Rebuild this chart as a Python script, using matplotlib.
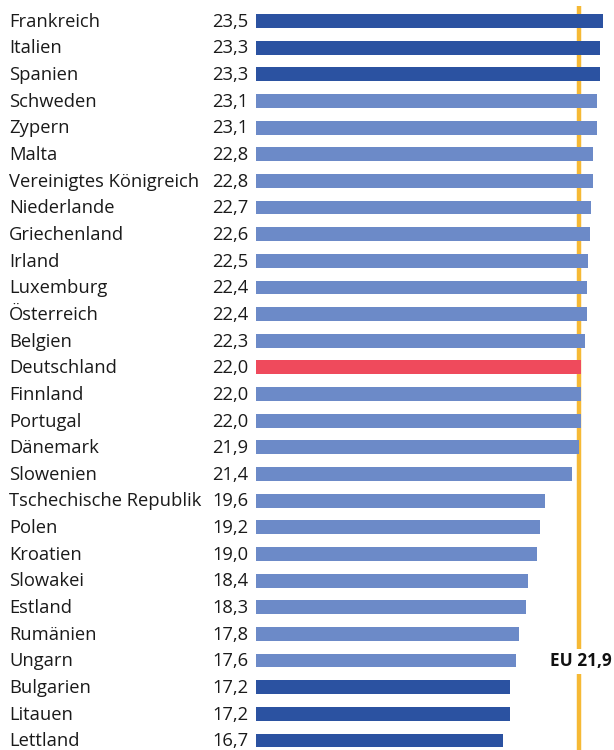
import matplotlib
matplotlib.use("Agg")
import matplotlib.pyplot as plt

countries = ["Frankreich", "Italien", "Spanien", "Schweden", "Zypern", "Malta",
             "Vereinigtes Königreich", "Niederlande", "Griechenland", "Irland",
             "Luxemburg", "Österreich", "Belgien", "Deutschland", "Finnland",
             "Portugal", "Dänemark", "Slowenien", "Tschechische Republik", "Polen",
             "Kroatien", "Slowakei", "Estland", "Rumänien", "Ungarn", "Bulgarien",
             "Litauen", "Lettland"]
values = [23.5, 23.3, 23.3, 23.1, 23.1, 22.8, 22.8, 22.7, 22.6, 22.5, 22.4, 22.4,
          22.3, 22.0, 22.0, 22.0, 21.9, 21.4, 19.6, 19.2, 19.0, 18.4, 18.3, 17.8,
          17.6, 17.2, 17.2, 16.7]
eu_value = 21.9
eu_label = "EU 21,9"

DARK = "#2b52a1"
LIGHT = "#6c8ac8"
RED = "#ef4a5c"
ORANGE = "#f6b935"

n = len(countries)
colors = []
for i, c in enumerate(countries):
    if c == "Deutschland":
        colors.append(RED)
    elif i < 3 or i >= n - 3:
        colors.append(DARK)
    else:
        colors.append(LIGHT)

plt.rcParams["font.family"] = ["Open Sans", "DejaVu Sans"]

W, H = 614, 750
fig = plt.figure(figsize=(W / 100, H / 100), dpi=100)
x0 = 256
ax = fig.add_axes([x0 / W, 0, (W - x0) / W, 1])
px_per_unit = 14.77
ax.set_xlim(0, (W - x0) / px_per_unit)
row = 26.65
ybottom = 27 + (H - 740.5) / row
ax.set_ylim(ybottom, -21 / row)
ax.axis("off")

ypos = list(range(n))
ax.barh(ypos, values, height=0.52, color=colors, zorder=3)

# EU average line, drawn behind the bars
ax.plot([eu_value, eu_value], [(6 - 21) / row, ybottom + 1],
        color=ORANGE, lw=3.2, zorder=2, solid_capstyle="butt", clip_on=False)

# EU label on a white patch that interrupts the line
ax.text((W - 2 - x0) / px_per_unit, 24.03, eu_label, ha="right", va="center",
        fontsize=12.4, fontweight="bold", color="#111111", zorder=4,
        bbox=dict(facecolor="white", edgecolor="none", pad=2.5))

for i, (c, v) in enumerate(zip(countries, values)):
    yb = 1 - (26.8 + i * row) / H
    fig.text(9 / W, yb, c, ha="left", va="baseline",
             fontsize=13.2, color="#1a1a1a")
    fig.text(248 / W, yb, f"{v:.1f}".replace(".", ","),
             ha="right", va="baseline", fontsize=13.2, color="#1a1a1a")

fig.savefig("out.png", dpi=100, facecolor="white")
